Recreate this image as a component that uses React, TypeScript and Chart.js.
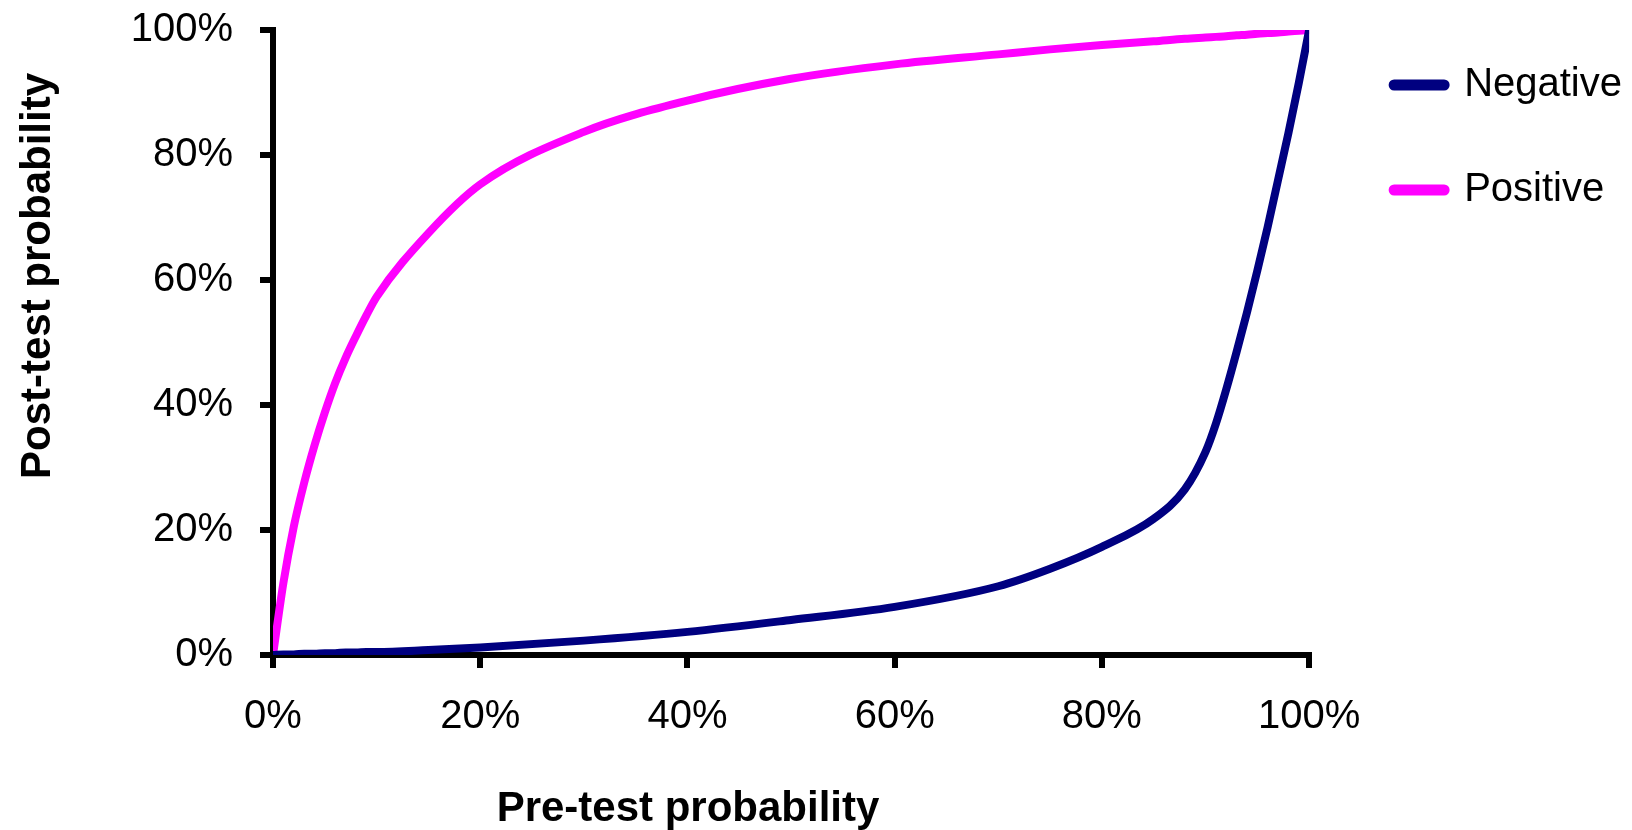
import React, { useEffect, useRef } from 'react';
import { Chart, registerables } from 'chart.js';

Chart.register(...registerables);

// Pre-test probability (%) sample positions
const preTest = [0, 1, 2, 3, 4, 5, 6, 7, 8, 9, 10, 15, 20, 30, 40, 50, 60, 70, 75, 80, 85, 88, 90, 91, 92, 93, 94, 95, 96, 97, 98, 99, 100];
// Post-test probability (%) after a negative result
const negativeValues = [0, 0.1, 0.1, 0.2, 0.2, 0.3, 0.3, 0.4, 0.4, 0.5, 0.5, 0.8, 1.2, 2.3, 3.7, 5.6, 7.7, 11, 13.8, 17.3, 21.8, 26.5, 32.5, 37, 42.5, 48.5, 54.8, 61.5, 68.5, 76, 83.5, 91.5, 100];
// Post-test probability (%) after a positive result
const positiveValues = [0, 11.5, 20.5, 27.5, 33.5, 38.8, 43.5, 47.5, 51, 54.3, 57.3, 67.5, 75.3, 83.7, 88.7, 92.2, 94.5, 96.1, 96.9, 97.6, 98.2, 98.6, 98.8, 98.9, 99, 99.15, 99.25, 99.4, 99.5, 99.6, 99.75, 99.87, 100];

const seriesNames = ['Negative', 'Positive'];
const seriesColors = ['#000080', '#FF00FF'];
const xAxisTitle = 'Pre-test probability';
const yAxisTitle = 'Post-test probability';
const tickStep = 20;

const FONT = '"Liberation Sans", Arial, Helvetica, sans-serif';

const axisTitlesPlugin = {
  id: 'axisTitles',
  afterDraw(chart: any) {
    const ctx = chart.ctx;
    ctx.save();
    ctx.fillStyle = '#000';
    ctx.font = `bold 42px ${FONT}`;
    ctx.textAlign = 'center';
    ctx.textBaseline = 'alphabetic';
    ctx.fillText(xAxisTitle, 688, 821);
    ctx.translate(50, 276);
    ctx.rotate(-Math.PI / 2);
    ctx.fillText(yAxisTitle, 0, 0);
    ctx.restore();
  },
};

export default function App() {
  const canvasRef = useRef<HTMLCanvasElement | null>(null);

  useEffect(() => {
    if (!canvasRef.current) return;
    const values = [negativeValues, positiveValues];
    const datasets = seriesNames.map((name, si) => ({
      label: name,
      data: preTest.map((x, i) => ({ x, y: values[si][i] })),
      borderColor: seriesColors[si],
      backgroundColor: seriesColors[si],
      borderWidth: 8,
      pointRadius: 0,
      pointHoverRadius: 0,
      cubicInterpolationMode: 'monotone' as const,
      borderCapStyle: 'round' as const,
      borderJoinStyle: 'round' as const,
      fill: false,
      xAxisID: 'x',
      yAxisID: 'y',
    }));

    const tickFont = { family: FONT, size: 40 };
    const axisGrid = {
      drawOnChartArea: false,
      drawTicks: true,
      tickLength: 13,
      tickWidth: 6,
      tickColor: '#000',
      lineWidth: 6,
      color: '#000',
    };

    const chart = new Chart(canvasRef.current, {
      type: 'line',
      data: { datasets },
      plugins: [axisTitlesPlugin],
      options: {
        responsive: false,
        animation: false,
        devicePixelRatio: 1,
        layout: { padding: 0 },
        plugins: {
          tooltip: { enabled: false },
          title: { display: false },
          legend: {
            position: 'right',
            align: 'start',
            maxWidth: 400,
            labels: {
              usePointStyle: true,
              pointStyle: 'line',
              pointStyleWidth: 50,
              padding: 65,
              color: '#000',
              font: tickFont,
              generateLabels: (c: any) =>
                Chart.defaults.plugins.legend.labels
                  .generateLabels(c)
                  .map((l: any) => ({ ...l, lineWidth: 11, lineCap: 'round' })),
            },
          },
        },
        scales: {
          x: {
            type: 'linear',
            position: 'bottom',
            min: 0,
            max: 100,
            ticks: {
              stepSize: tickStep,
              callback: (v: any) => v + '%',
              font: tickFont,
              color: '#000',
              padding: 25,
              maxRotation: 0,
              autoSkip: false,
            },
            grid: axisGrid,
            border: { display: true, color: '#000', width: 6 },
            afterFit: (s: any) => {
              s.height = 175;
              s.paddingLeft = 0;
              s.paddingRight = 0;
            },
          },
          y: {
            type: 'linear',
            position: 'left',
            min: 0,
            max: 100,
            ticks: {
              stepSize: tickStep,
              callback: (v: any) => v + '%',
              font: tickFont,
              color: '#000',
              padding: 27,
            },
            grid: axisGrid,
            border: { display: true, color: '#000', width: 6 },
            afterFit: (s: any) => {
              s.width = 273;
              s.paddingTop = 0;
              s.paddingBottom = 0;
            },
          },
          xTop: {
            axis: 'x',
            type: 'linear',
            position: 'top',
            display: true,
            grid: { display: false },
            border: { display: false },
            ticks: { display: false },
            afterFit: (s: any) => {
              s.height = 30;
              s.paddingLeft = 0;
              s.paddingRight = 0;
            },
          },
          yRight: {
            axis: 'y',
            type: 'linear',
            position: 'right',
            display: true,
            grid: { display: false },
            border: { display: false },
            ticks: { display: false },
            afterFit: (s: any) => {
              s.width = 20;
              s.paddingTop = 0;
              s.paddingBottom = 0;
            },
          },
        },
      } as any,
    });
    return () => chart.destroy();
  }, []);

  return (
    <div style={{ position: 'fixed', left: 0, top: 0, width: 1632, height: 830, background: '#fff' }}>
      <canvas ref={canvasRef} width={1632} height={830} style={{ display: 'block' }} />
    </div>
  );
}
